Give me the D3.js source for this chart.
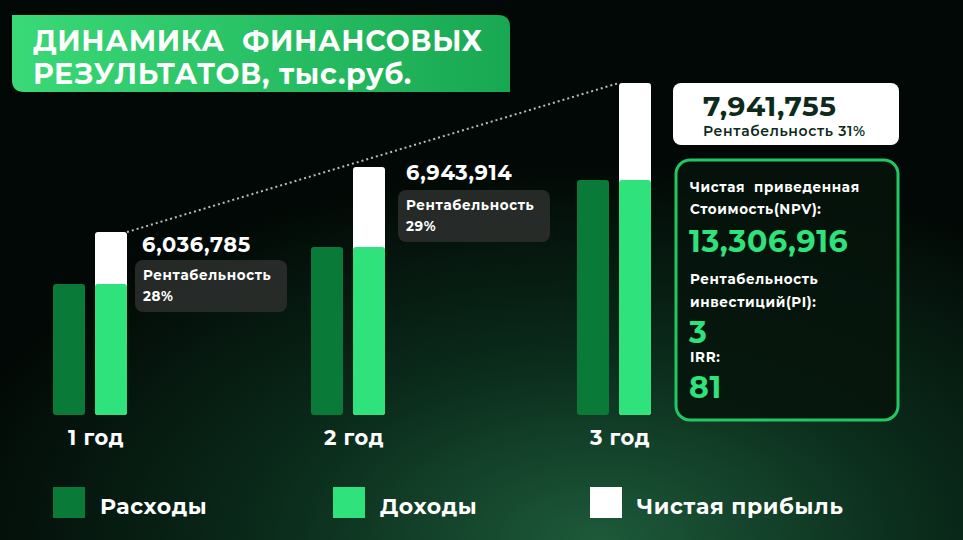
<!DOCTYPE html>
<html><head><meta charset="utf-8">
<script src="https://cdn.jsdelivr.net/npm/d3@7"></script>
<style>body{margin:0;background:#020805}svg{display:block;font-family:Montserrat,"Noto Sans",sans-serif;letter-spacing:0.04em}</style>
</head><body><svg id="c" width="963" height="540"></svg>
<script>
// chart values (thousand rub.)
const years = ["1 год", "2 год", "3 год"];
const expenses = [15250, 19560, 27360];
const income = [21300, 28870, 38650];
const profitLabels = ["6,036,785", "6,943,914", "7,941,755"];
const margins = ["28%", "29%", "31%"];
const legendItems = ["Расходы", "Доходы", "Чистая прибыль"];
const kpiLabels = [["Чистая  приведенная", "Стоимость(NPV):"], ["Рентабельность", "инвестиций(PI):"], ["IRR:"]];
const kpiValues = ["13,306,916", "3", "81"];

const dark = "#097a38", light = "#2fe27c";
const svg = d3.select("#c");
const defs = svg.append("defs");
const bg = defs.append("radialGradient").attr("id", "bg").attr("cx", "0.62").attr("cy", "1").attr("r", "0.7");
bg.append("stop").attr("offset", "0").attr("stop-color", "#1d5a3a");
bg.append("stop").attr("offset", "0.5").attr("stop-color", "#0a2a1a");
bg.append("stop").attr("offset", "1").attr("stop-color", "#020805");
svg.append("rect").attr("width", 963).attr("height", 540).attr("fill", "url(#bg)");
const tg = defs.append("linearGradient").attr("id", "tg");
tg.append("stop").attr("offset", "0").attr("stop-color", "#3ad977");
tg.append("stop").attr("offset", "1").attr("stop-color", "#18a852");

// title
svg.append("path").attr("fill", "url(#tg)")
  .attr("d", "M12,15 H498 Q510,15 510,27 V92 H24 Q12,92 12,80 Z");
svg.append("text").attr("x", 33).attr("y", 51).attr("fill", "#fff").attr("font-size", 28.5).attr("font-weight", 700)
  .attr("xml:space", "preserve").text("ДИНАМИКА  ФИНАНСОВЫХ");
svg.append("text").attr("x", 33).attr("y", 84).attr("fill", "#fff").attr("font-size", 28.5).attr("font-weight", 700)
  .text("РЕЗУЛЬТАТОВ, тыс.руб.");

const y = d3.scaleLinear().domain([0, 40000]).range([415, 71.4]);
const groupX = [53, 311, 577];
const bw = 32, gap = 42;

// dotted connector
svg.append("line").attr("x1", groupX[0] + gap + bw).attr("y1", y(income[0]))
  .attr("x2", groupX[2] + gap).attr("y2", y(income[2]))
  .attr("stroke", "#bbb").attr("stroke-width", 2).attr("stroke-dasharray", "2,3");

years.forEach((yr, i) => {
  const x = groupX[i];
  svg.append("rect").attr("x", x).attr("y", y(expenses[i])).attr("width", bw)
    .attr("height", y(0) - y(expenses[i])).attr("rx", 3).attr("fill", dark);
  svg.append("rect").attr("x", x + gap).attr("y", y(income[i])).attr("width", bw)
    .attr("height", y(0) - y(income[i])).attr("rx", 3).attr("fill", "#fff");
  svg.append("rect").attr("x", x + gap).attr("y", y(expenses[i])).attr("width", bw)
    .attr("height", y(0) - y(expenses[i])).attr("rx", 3).attr("fill", light);
  svg.append("text").attr("x", x + (bw + gap) / 2 + 6).attr("y", 445).attr("text-anchor", "middle")
    .attr("fill", "#fff").attr("font-size", 21).attr("font-weight", 700).text(yr);
});

// profit labels for years 1-2
[[142, 252, 135, 260], [406, 180, 398, 190]].forEach(([tx, ty, bx, by], i) => {
  svg.append("text").attr("x", tx).attr("y", ty).attr("fill", "#fff").attr("font-size", 21).attr("font-weight", 700).text(profitLabels[i]);
  svg.append("rect").attr("x", bx).attr("y", by).attr("width", 152).attr("height", 52).attr("rx", 8).attr("fill", "#2a2d2b").attr("opacity", 0.9);
  svg.append("text").attr("x", bx + 8).attr("y", by + 20).attr("fill", "#fff").attr("font-size", 13.5).attr("font-weight", 700).text("Рентабельность");
  svg.append("text").attr("x", bx + 8).attr("y", by + 41).attr("fill", "#fff").attr("font-size", 13.5).attr("font-weight", 700).text(margins[i]);
});
// year 3 label
svg.append("rect").attr("x", 673).attr("y", 83).attr("width", 226).attr("height", 62).attr("rx", 8).attr("fill", "#fff");
svg.append("text").attr("x", 703).attr("y", 116).attr("fill", "#0d2a1a").attr("font-size", 28).attr("font-weight", 700).text(profitLabels[2]);
svg.append("text").attr("x", 703).attr("y", 136).attr("fill", "#0d2a1a").attr("font-size", 14).attr("font-weight", 600).text("Рентабельность " + margins[2]);

// KPI box
svg.append("rect").attr("x", 676).attr("y", 160).attr("width", 222).attr("height", 260).attr("rx", 14)
  .attr("fill", "#06140c").attr("fill-opacity", 0.85).attr("stroke", "#22c763").attr("stroke-width", 3);
const kpiY = [[192, 214, 252], [284, 307, 343], [362, null, 398]];
kpiLabels.forEach((lines, i) => {
  lines.forEach((l, j) => svg.append("text").attr("x", 690).attr("y", kpiY[i][j]).attr("fill", "#fff")
    .attr("font-size", 13.5).attr("font-weight", 700).attr("xml:space", "preserve").text(l));
  svg.append("text").attr("x", 689).attr("y", kpiY[i][2]).attr("fill", light)
    .attr("font-size", 30).attr("font-weight", 700).text(kpiValues[i]);
});

// legend
const legColors = [dark, light, "#fff"];
const legX = [53, 333, 590];
legendItems.forEach((t, i) => {
  svg.append("rect").attr("x", legX[i]).attr("y", 487).attr("width", 32).attr("height", 31).attr("fill", legColors[i]);
  svg.append("text").attr("x", legX[i] + 47).attr("y", 514).attr("fill", "#fff")
    .attr("font-size", 22).attr("font-weight", 700).text(t);
});
</script></body></html>
